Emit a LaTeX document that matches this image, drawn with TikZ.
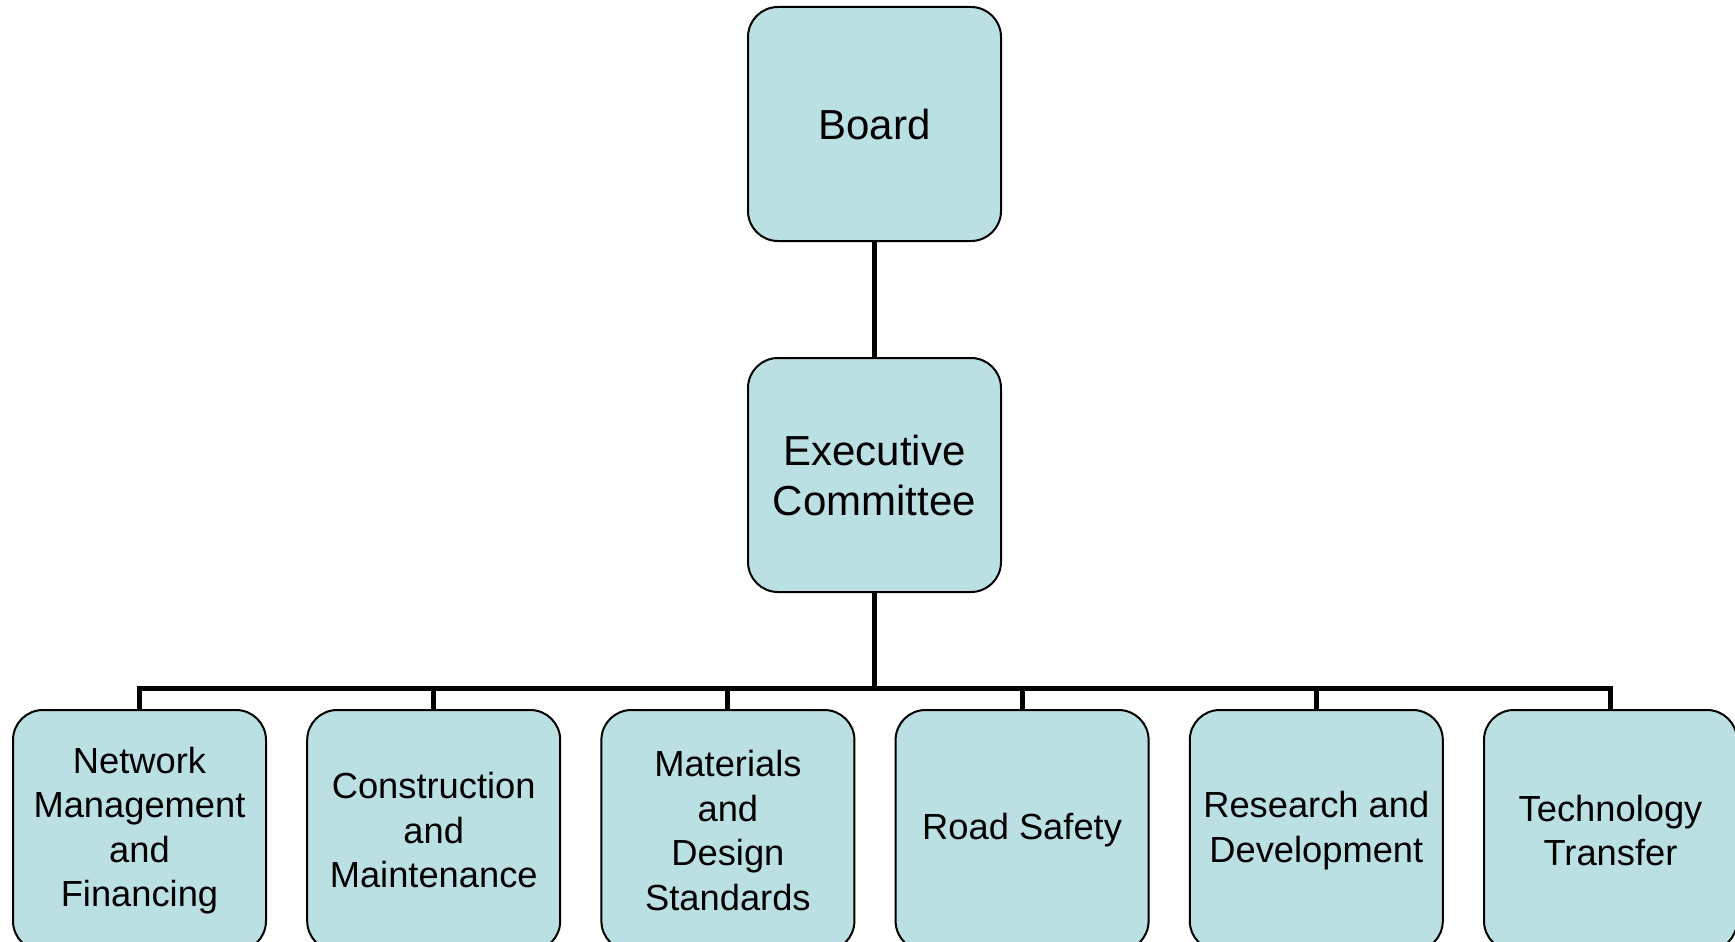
\documentclass[tikz,border=0pt]{standalone}
\usepackage{fontspec}
\setmainfont{Liberation Sans}
\definecolor{boxfill}{RGB}{187,224,227}
\begin{document}
\begin{tikzpicture}[x=1pt,y=-1pt,
  org/.style={draw=black, line width=2pt, fill=boxfill, rounded corners=30pt,
    minimum width=253pt, minimum height=234pt, inner sep=0pt, align=center},
  top/.style={org, font=\fontsize{42}{50}\selectfont},
  low/.style={org, minimum height=241pt, font=\fontsize{36.3}{44.5}\selectfont},
  conn/.style={draw=black, line width=5pt, line join=miter}]
\useasboundingbox (0,0) rectangle (1735,942);
\clip (0,0) rectangle (1735,942);
\node[top] (board) at (874.5,124) {Board};
\node[top] (exec) at (874.5,475) {Executive\\Committee};
\node[low] (b1) at (139.5,830.5) {Network\\Management\\and\\Financing};
\node[low] (b2) at (433.7,830.5) {Construction\\and\\Maintenance};
\node[low] (b3) at (727.9,830.5) {Materials\\and\\Design\\Standards};
\node[low] (b4) at (1022.1,830.5) {Road Safety};
\node[low] (b5) at (1316.3,830.5) {Research and\\Development};
\node[low] (b6) at (1610.5,830.5) {Technology\\Transfer};
\coordinate (bar) at (874.5,688);
\draw[conn] (board.south) -- (exec.north);
\draw[conn] (exec.south) -- (bar);
\foreach \b in {b1,b2,b3,b4,b5,b6}
  \draw[conn] (\b.north) |- (bar);
\end{tikzpicture}
\end{document}
